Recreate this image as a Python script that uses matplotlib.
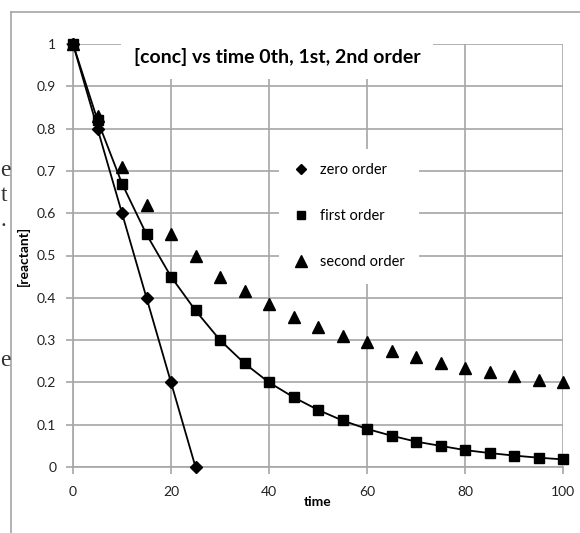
# [conc] vs time, 0th / 1st / 2nd order
import matplotlib.pyplot as plt
from matplotlib.lines import Line2D

# zero order
t_zero = [0, 5, 10, 15, 20, 25]
c_zero = [1.0, 0.8, 0.6, 0.4, 0.2, 0.0]

# first order
t_first = [0, 5, 10, 15, 20, 25, 30, 35, 40, 45, 50, 55, 60, 65, 70, 75, 80, 85, 90, 95, 100]
c_first = [1.0, 0.82, 0.67, 0.55, 0.45, 0.37, 0.30, 0.245, 0.20, 0.165, 0.135,
           0.11, 0.09, 0.074, 0.06, 0.05, 0.04, 0.033, 0.027, 0.022, 0.018]

# second order
t_second = t_first
c_second = [1.0, 0.83, 0.71, 0.62, 0.55, 0.50, 0.45, 0.415, 0.385, 0.355, 0.33,
            0.31, 0.295, 0.275, 0.26, 0.245, 0.235, 0.225, 0.215, 0.205, 0.20]

x_ticks = [0, 20, 40, 60, 80, 100]
y_ticks = [0, 0.1, 0.2, 0.3, 0.4, 0.5, 0.6, 0.7, 0.8, 0.9, 1]
y_labels = ['0', '0.1', '0.2', '0.3', '0.4', '0.5', '0.6', '0.7', '0.8', '0.9', '1']

plt.rcParams['font.family'] = ['Lato', 'DejaVu Sans']
grid_col = '#a6a6a6'

fig = plt.figure(figsize=(5.8, 5.33), dpi=100)
ax = fig.add_axes([73 / 580, 1 - 467 / 533, 490 / 580, 423 / 533])

ax.plot(t_zero, c_zero, color='black', lw=1.3, marker='D', ms=6, clip_on=False, zorder=3)
ax.plot(t_first, c_first, color='black', lw=1.3, marker='s', ms=7, clip_on=False, zorder=3)
ax.plot(t_second, c_second, color='black', lw=0, marker='^', ms=8.5, clip_on=False, zorder=3)

ax.set_xlim(0, 100)
ax.set_ylim(0, 1)
ax.set_xticks(x_ticks)
ax.set_yticks(y_ticks)
ax.set_yticklabels(y_labels)
ax.grid(True, color=grid_col, lw=1.2)
ax.set_axisbelow(True)
for s in ['top', 'right']:
    ax.spines[s].set_visible(False)
for s in ['left', 'bottom']:
    ax.spines[s].set_color(grid_col)
    ax.spines[s].set_linewidth(1.2)
ax.tick_params(colors=grid_col, labelcolor='#222222', labelsize=10, length=5, width=1.2)
ax.tick_params(axis='x', pad=9)
ax.tick_params(axis='y', pad=7)
ax.patch.set_alpha(0)

ax.set_xlabel('time', fontsize=10, fontweight='bold', labelpad=-2)
ax.set_ylabel('[reactant]', fontsize=10, fontweight='bold', labelpad=5)

ax.text(0.416, 0.969, '[conc] vs time 0th, 1st, 2nd order', transform=ax.transAxes,
        ha='center', va='center', fontsize=14, fontweight='bold',
        bbox=dict(facecolor='white', edgecolor='none', pad=9), zorder=4)

# legend: markers only
handles = [Line2D([], [], color='black', lw=0, marker='D', ms=5.5),
           Line2D([], [], color='black', lw=0, marker='s', ms=6),
           Line2D([], [], color='black', lw=0, marker='^', ms=8)]
names = ['zero order', 'first order', 'second order']
leg = ax.legend(handles, names, loc='upper left', bbox_to_anchor=(0.405, 0.77), frameon=True,
                fontsize=10.5, handlelength=1.0, labelspacing=2.2, borderpad=1.0, handletextpad=0.8)
leg.get_frame().set_facecolor('white')
leg.get_frame().set_edgecolor('none')
leg.get_frame().set_alpha(1)

# outer frame of the embedded chart
fig.add_artist(Line2D([11 / 580, 11 / 580], [0, 1 - 12 / 533], color=grid_col, lw=1.2))
fig.add_artist(Line2D([11 / 580, 1], [1 - 12 / 533, 1 - 12 / 533], color=grid_col, lw=1.2))

# cut-off text from the page behind
for ch, yp in [('e', 170), ('t', 196), ('.', 220), ('e', 360)]:
    fig.text(0.5 / 580, 1 - yp / 533, ch, ha='left', va='center', fontsize=17,
             family='Liberation Serif', color='#333333')

fig.savefig('out.png', dpi=100)
